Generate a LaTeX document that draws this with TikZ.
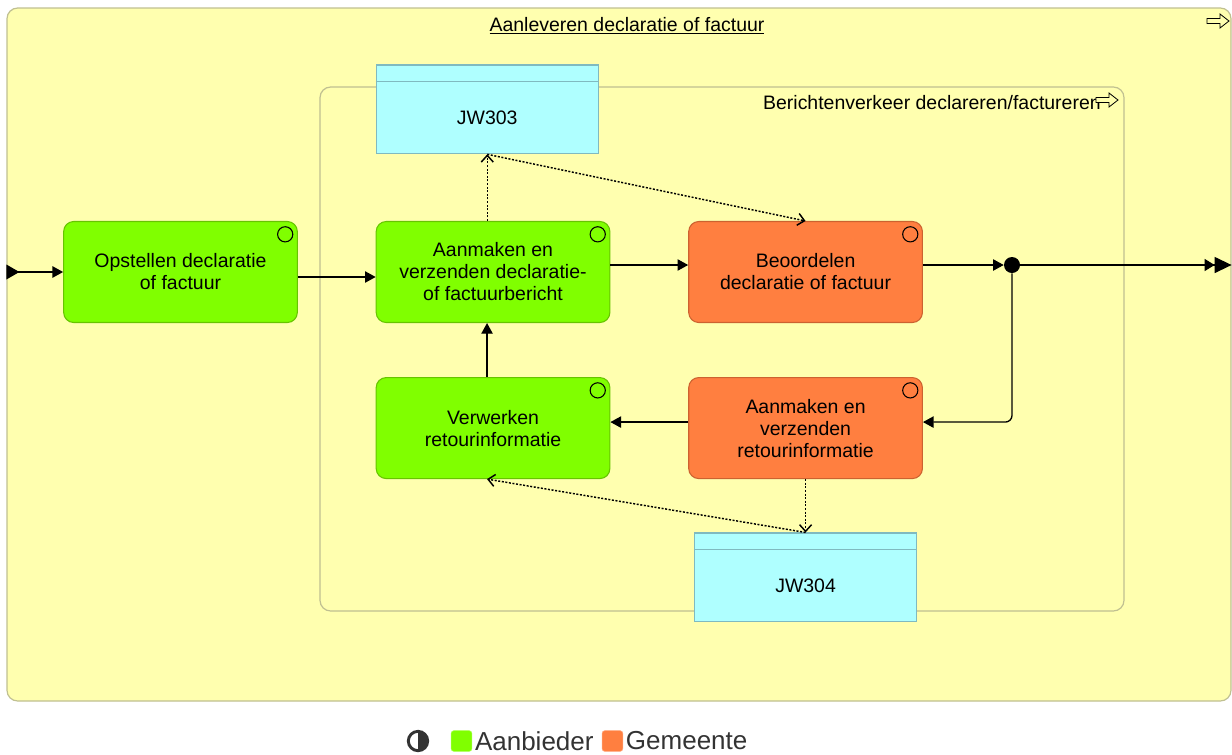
\documentclass[tikz,border=0pt]{standalone}
\usepackage{fontspec}
\setmainfont{Liberation Sans}
\usetikzlibrary{positioning, arrows.meta}

\definecolor{contfill}{RGB}{255,255,175}
\definecolor{contdraw}{RGB}{192,192,145}
\definecolor{aanbfill}{RGB}{128,255,0}
\definecolor{aanbdraw}{RGB}{102,196,0}
\definecolor{gemfill}{RGB}{255,127,64}
\definecolor{gemdraw}{RGB}{204,98,48}
\definecolor{datafill}{RGB}{175,255,255}
\definecolor{datadraw}{RGB}{128,186,192}
\definecolor{legtext}{RGB}{51,51,51}

\tikzset{cont/.style={draw=contdraw, fill=contfill, rounded corners=8pt, line width=0.9pt}}
\tikzset{lbl/.style={inner sep=0pt, font=\fontsize{14.6}{16.5}\selectfont}}
\tikzset{proc/.style={draw, rounded corners=7.5pt, minimum width=175.25pt, minimum height=75.75pt, align=center, line width=0.8pt, font=\fontsize{14.6}{16.5}\selectfont}}
\tikzset{aanb/.style={proc, fill=aanbfill, draw=aanbdraw}}
\tikzset{gem/.style={proc, fill=gemfill, draw=gemdraw}}
\tikzset{dobj/.style={draw=datadraw, fill=datafill, minimum width=166.5pt, minimum height=66.5pt, line width=0.9pt, inner sep=0pt, text height=24pt, text depth=1pt, font=\fontsize{14.6}{16.5}\selectfont}}
\tikzset{arr/.style={draw, line width=1pt, -{Triangle[length=8pt, width=8.5pt]}}}
\tikzset{acc/.style={draw, line width=1.1pt, dash pattern=on 1.5pt off 1.2pt, -{Straight Barb[length=5pt, width=9pt]}}}
\tikzset{legsq/.style={fill=#1, draw=#1!70!white, rounded corners=2pt, minimum size=15.5pt, inner sep=0pt}}
\tikzset{flowicon/.pic={\draw[line width=0.6pt, fill=contfill] (-11,-2.5) -- (2,-2.5) -- (2,-7) -- (11,0) -- (2,7) -- (2,2.5) -- (-11,2.5) -- cycle;}}

\begin{document}
\begin{tikzpicture}[x=0.75pt, y=-0.75pt]
  \useasboundingbox (0,0) rectangle (1232,754);
  % containers
  \node[cont, minimum width=918pt, minimum height=519.75pt] (outer) at (619,354.5) {};
  \node[lbl, anchor=base] (titel) at (627,31) {\underline{Aanleveren declaratie of factuur}};
  \pic at (1218,21) {flowicon};
  \node[cont, minimum width=603pt, minimum height=393pt] (inner) at (722,349) {};
  \node[lbl, anchor=base east] (berlbl) at (1101,109) {Berichtenverkeer declareren/factureren};
  \pic at (1107,100) {flowicon};

  % processen
  \node[aanb] (opst) at (180.5,272) {Opstellen declaratie\\of factuur};
  \node[aanb, right=58.35pt of opst] (aanm) {Aanmaken en\\verzenden declaratie-\\of factuurbericht};
  \node[gem, right=58.35pt of aanm] (beoo) {Beoordelen\\declaratie of factuur};
  \node[aanb, below=40.5pt of aanm] (verw) {Verwerken\\retourinformatie};
  \node[gem, below=40.5pt of beoo] (retr) {Aanmaken en\\verzenden\\retourinformatie};
  \foreach \n in {opst,aanm,beoo,verw,retr}
    \draw[line width=0.8pt] ([xshift=-9.5pt, yshift=-10pt]\n.north east) circle (5.7pt);

  % berichten
  \node[dobj, above=50pt of aanm.north west, anchor=south west] (jw303) {JW303};
  \node[dobj, below=40pt of retr] (jw304) {JW304};
  \draw[datadraw, line width=0.9pt] ([yshift=-12.75pt]jw303.north west) -- ([yshift=-12.75pt]jw303.north east);
  \draw[datadraw, line width=0.9pt] ([yshift=-12.75pt]jw304.north west) -- ([yshift=-12.75pt]jw304.north east);

  \node[circle, fill, inner sep=0pt, minimum size=12pt] (junc) at (1012,265) {};

  % stromen
  \draw[arr, {Triangle[reversed, length=9.75pt, width=11pt]}-{Triangle[length=8pt, width=8.5pt]}] (outer.west |- opst.west) -- (opst.west);
  \draw[arr] ([yshift=-3.75pt]opst.east) -- ([yshift=-3.75pt]aanm.west);
  \draw[arr] ([yshift=5.25pt]aanm.east) -- ([yshift=5.25pt]beoo.west);
  \draw[arr] (beoo.east |- junc) -- (junc);
  \draw[arr, -{Triangle[length=7.5pt, width=9pt]Triangle[length=12.75pt, width=12pt]}] (junc) -- (outer.east |- junc);
  \draw[arr, rounded corners=5pt] (junc) |- ([yshift=4.5pt]retr.east);
  \draw[arr] ([yshift=4.5pt]retr.west) -- ([yshift=4.5pt]verw.east);
  \draw[arr] ([xshift=-4.5pt]verw.north) -- ([xshift=-4.5pt]aanm.south);

  % toegang
  \draw[acc] (jw303.south |- aanm.north) -- (jw303.south);
  \draw[acc] (jw303.south) -- (beoo.north);
  \draw[acc] (retr.south) -- (jw304.north);
  \draw[acc] (jw304.north) -- ([xshift=-4.5pt]verw.south);

  % legenda
  \node[circle, draw=legtext, line width=2.2pt, minimum size=14.5pt, inner sep=0pt,
    path picture={\fill[legtext] (path picture bounding box.north) rectangle (path picture bounding box.south east);}] (legicon) at (418,741) {};
  \node[legsq=aanbfill] (legA) at (461.5,741) {};
  \node[lbl, text=legtext, font=\fontsize{19.5}{21}\selectfont, right=2pt of legA] (legAtxt) {Aanbieder};
  \node[legsq=gemfill, right=6pt of legAtxt] (legG) {};
  \node[lbl, text=legtext, font=\fontsize{19.5}{21}\selectfont, right=2pt of legG] (legGtxt) {Gemeente};
\end{tikzpicture}
\end{document}
